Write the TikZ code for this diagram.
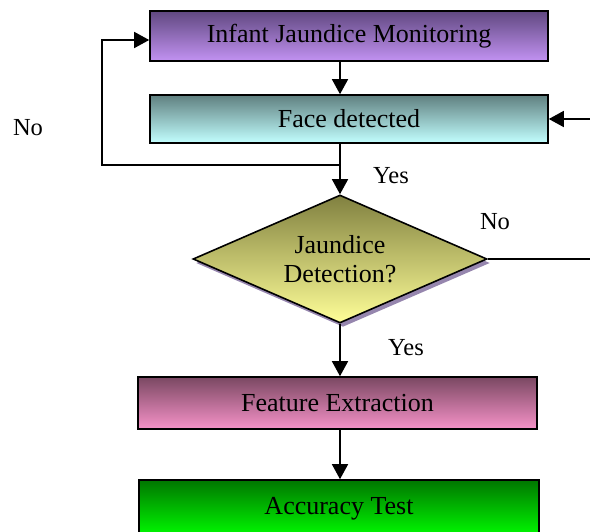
\documentclass[tikz,border=0pt]{standalone}
\usepackage{fontspec}
\setmainfont{Liberation Serif}
\usetikzlibrary{arrows.meta,shapes.geometric,shadows}

\definecolor{monTop}{RGB}{96,72,128}
\definecolor{monBot}{RGB}{194,146,242}
\definecolor{faceTop}{RGB}{96,128,128}
\definecolor{faceBot}{RGB}{194,255,255}
\definecolor{decTop}{RGB}{128,128,64}
\definecolor{decBot}{RGB}{255,255,152}
\definecolor{featTop}{RGB}{122,72,98}
\definecolor{featBot}{RGB}{246,146,200}
\definecolor{accTop}{RGB}{0,118,0}
\definecolor{accBot}{RGB}{0,255,0}
\definecolor{shadowGrey}{RGB}{150,134,174}

\begin{document}
\begin{tikzpicture}[x=1pt,y=-1pt]
\tikzstyle{process} = [draw,line width=1.6pt,minimum width=398pt,minimum height=50pt,inner sep=0pt,font=\fontsize{26}{29}\selectfont]
\tikzstyle{decision} = [draw,diamond,aspect=2.3,line width=1.6pt,minimum width=294pt,minimum height=128pt,inner sep=0pt,align=center,font=\fontsize{26}{29}\selectfont,drop shadow={shadow xshift=3pt,shadow yshift=-4pt,fill=shadowGrey,opacity=1}]
\tikzstyle{line} = [draw,line width=1.5pt,-{Triangle[length=15pt,width=16pt]}]
\tikzstyle{lbl} = [font=\fontsize{24.5}{29}\selectfont]

\clip (0,0) rectangle (590,532);

\node[process,top color=monTop,bottom color=monBot] (monitor) at (349,36) {Infant Jaundice Monitoring};
\node[process,minimum height=48pt,top color=faceTop,bottom color=faceBot] (face) at (349,119) {Face detected};
\node[decision,top color=decTop,bottom color=decBot] (jdetect) at (340,259) {Jaundice\\Detection?};
\node[process,minimum width=399pt,minimum height=52pt,top color=featTop,bottom color=featBot] (feature) at (337.5,403) {Feature Extraction};
\node[process,minimum width=400pt,minimum height=58pt,top color=accTop,bottom color=accBot] (accuracy) at (339,509) {Accuracy Test};

\coordinate (split) at (340,165);
\coordinate (loopL) at (102,165);

\draw[line] (monitor.south -| jdetect.north) -- (face.north -| jdetect.north);
\draw[line] (face.south -| jdetect.north) -- (jdetect.north);
\draw[line] (split) -- (loopL) |- ([yshift=-4pt]monitor.west);
\draw[line] (jdetect.east) -- ++(110,0) |- (face.east);
\draw[line] (jdetect.south) -- (feature.north -| jdetect.south);
\draw[line] (feature.south -| jdetect.south) -- (accuracy.north -| jdetect.south);

\node[lbl] (noL) at (28,128) {No};
\node[lbl] (yesA) at (391,176) {Yes};
\node[lbl] (noR) at (495,222) {No};
\node[lbl] (yesB) at (406,348) {Yes};

\end{tikzpicture}
\end{document}
